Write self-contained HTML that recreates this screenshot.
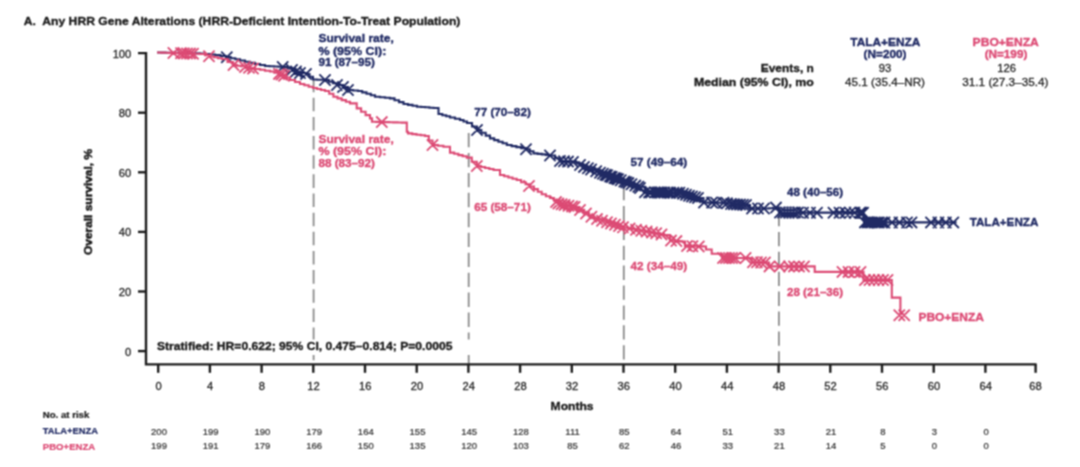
<!DOCTYPE html>
<html><head><meta charset="utf-8"><title>Overall survival</title>
<style>html,body{margin:0;padding:0;background:#fff}svg{display:block}.wrap{width:1080px;height:467px;overflow:hidden}</style></head>
<body>
<div class="wrap">
<svg width="1080" height="467" viewBox="0 0 1080 467" font-family="'Liberation Sans', Arial, sans-serif">
<defs><filter id="soft" x="0" y="0" width="1080" height="467" filterUnits="userSpaceOnUse" color-interpolation-filters="sRGB"><feConvolveMatrix order="3" kernelMatrix="1 2 1 2 4 2 1 2 1" divisor="16" edgeMode="duplicate" preserveAlpha="true"/></filter></defs>
<rect width="1080" height="467" fill="#fff"/>
<g filter="url(#soft)">
<rect width="1080" height="467" fill="#fff"/>
<line x1="313.6" y1="78.6" x2="313.6" y2="364" stroke="#8c8c8c" stroke-width="1.8" stroke-dasharray="13.55 5.60"/>
<line x1="468.7" y1="133.0" x2="468.7" y2="364" stroke="#8c8c8c" stroke-width="1.8" stroke-dasharray="14.35 5.60"/>
<line x1="623.8" y1="186.0" x2="623.8" y2="364" stroke="#8c8c8c" stroke-width="1.8" stroke-dasharray="14.30 5.60"/>
<line x1="778.9" y1="212.0" x2="778.9" y2="364" stroke="#8c8c8c" stroke-width="1.8" stroke-dasharray="14.30 5.60"/>
<rect x="150" y="339.5" width="326" height="15.5" fill="#fff"/>
<path d="M138 53.1 H146 V364.4 H1036.6" stroke="#1c1c1c" stroke-width="2.4" fill="none" stroke-linejoin="miter"/>
<line x1="138" x2="146" y1="112.7" y2="112.7" stroke="#1c1c1c" stroke-width="2.4"/>
<line x1="138" x2="146" y1="172.3" y2="172.3" stroke="#1c1c1c" stroke-width="2.4"/>
<line x1="138" x2="146" y1="231.9" y2="231.9" stroke="#1c1c1c" stroke-width="2.4"/>
<line x1="138" x2="146" y1="291.5" y2="291.5" stroke="#1c1c1c" stroke-width="2.4"/>
<line x1="138" x2="146" y1="351.1" y2="351.1" stroke="#1c1c1c" stroke-width="2.4"/>
<line x1="158.2" x2="158.2" y1="364.4" y2="372.8" stroke="#1c1c1c" stroke-width="2.4"/>
<line x1="209.9" x2="209.9" y1="364.4" y2="372.8" stroke="#1c1c1c" stroke-width="2.4"/>
<line x1="261.6" x2="261.6" y1="364.4" y2="372.8" stroke="#1c1c1c" stroke-width="2.4"/>
<line x1="313.3" x2="313.3" y1="364.4" y2="372.8" stroke="#1c1c1c" stroke-width="2.4"/>
<line x1="365.0" x2="365.0" y1="364.4" y2="372.8" stroke="#1c1c1c" stroke-width="2.4"/>
<line x1="416.7" x2="416.7" y1="364.4" y2="372.8" stroke="#1c1c1c" stroke-width="2.4"/>
<line x1="468.4" x2="468.4" y1="364.4" y2="372.8" stroke="#1c1c1c" stroke-width="2.4"/>
<line x1="520.1" x2="520.1" y1="364.4" y2="372.8" stroke="#1c1c1c" stroke-width="2.4"/>
<line x1="571.8" x2="571.8" y1="364.4" y2="372.8" stroke="#1c1c1c" stroke-width="2.4"/>
<line x1="623.5" x2="623.5" y1="364.4" y2="372.8" stroke="#1c1c1c" stroke-width="2.4"/>
<line x1="675.2" x2="675.2" y1="364.4" y2="372.8" stroke="#1c1c1c" stroke-width="2.4"/>
<line x1="726.9" x2="726.9" y1="364.4" y2="372.8" stroke="#1c1c1c" stroke-width="2.4"/>
<line x1="778.6" x2="778.6" y1="364.4" y2="372.8" stroke="#1c1c1c" stroke-width="2.4"/>
<line x1="830.3" x2="830.3" y1="364.4" y2="372.8" stroke="#1c1c1c" stroke-width="2.4"/>
<line x1="882.0" x2="882.0" y1="364.4" y2="372.8" stroke="#1c1c1c" stroke-width="2.4"/>
<line x1="933.7" x2="933.7" y1="364.4" y2="372.8" stroke="#1c1c1c" stroke-width="2.4"/>
<line x1="985.4" x2="985.4" y1="364.4" y2="372.8" stroke="#1c1c1c" stroke-width="2.4"/>
<line x1="1035.6" x2="1035.6" y1="364.4" y2="372.8" stroke="#1c1c1c" stroke-width="2.4"/>
<text x="131.3" y="57.6" font-size="11.2" font-weight="normal" fill="#262626" stroke="#262626" stroke-width="0.3" text-anchor="end" xml:space="preserve">100</text>
<text x="131.3" y="117.2" font-size="11.2" font-weight="normal" fill="#262626" stroke="#262626" stroke-width="0.3" text-anchor="end" xml:space="preserve">80</text>
<text x="131.3" y="176.8" font-size="11.2" font-weight="normal" fill="#262626" stroke="#262626" stroke-width="0.3" text-anchor="end" xml:space="preserve">60</text>
<text x="131.3" y="236.4" font-size="11.2" font-weight="normal" fill="#262626" stroke="#262626" stroke-width="0.3" text-anchor="end" xml:space="preserve">40</text>
<text x="131.3" y="296.0" font-size="11.2" font-weight="normal" fill="#262626" stroke="#262626" stroke-width="0.3" text-anchor="end" xml:space="preserve">20</text>
<text x="131.3" y="355.6" font-size="11.2" font-weight="normal" fill="#262626" stroke="#262626" stroke-width="0.3" text-anchor="end" xml:space="preserve">0</text>
<text x="158.5" y="389.5" font-size="11.2" font-weight="normal" fill="#262626" stroke="#262626" stroke-width="0.3" text-anchor="middle" xml:space="preserve">0</text>
<text x="210.2" y="389.5" font-size="11.2" font-weight="normal" fill="#262626" stroke="#262626" stroke-width="0.3" text-anchor="middle" xml:space="preserve">4</text>
<text x="261.9" y="389.5" font-size="11.2" font-weight="normal" fill="#262626" stroke="#262626" stroke-width="0.3" text-anchor="middle" xml:space="preserve">8</text>
<text x="313.6" y="389.5" font-size="11.2" font-weight="normal" fill="#262626" stroke="#262626" stroke-width="0.3" text-anchor="middle" xml:space="preserve">12</text>
<text x="365.3" y="389.5" font-size="11.2" font-weight="normal" fill="#262626" stroke="#262626" stroke-width="0.3" text-anchor="middle" xml:space="preserve">16</text>
<text x="417.0" y="389.5" font-size="11.2" font-weight="normal" fill="#262626" stroke="#262626" stroke-width="0.3" text-anchor="middle" xml:space="preserve">20</text>
<text x="468.7" y="389.5" font-size="11.2" font-weight="normal" fill="#262626" stroke="#262626" stroke-width="0.3" text-anchor="middle" xml:space="preserve">24</text>
<text x="520.4" y="389.5" font-size="11.2" font-weight="normal" fill="#262626" stroke="#262626" stroke-width="0.3" text-anchor="middle" xml:space="preserve">28</text>
<text x="572.1" y="389.5" font-size="11.2" font-weight="normal" fill="#262626" stroke="#262626" stroke-width="0.3" text-anchor="middle" xml:space="preserve">32</text>
<text x="623.8" y="389.5" font-size="11.2" font-weight="normal" fill="#262626" stroke="#262626" stroke-width="0.3" text-anchor="middle" xml:space="preserve">36</text>
<text x="675.5" y="389.5" font-size="11.2" font-weight="normal" fill="#262626" stroke="#262626" stroke-width="0.3" text-anchor="middle" xml:space="preserve">40</text>
<text x="727.2" y="389.5" font-size="11.2" font-weight="normal" fill="#262626" stroke="#262626" stroke-width="0.3" text-anchor="middle" xml:space="preserve">44</text>
<text x="778.9" y="389.5" font-size="11.2" font-weight="normal" fill="#262626" stroke="#262626" stroke-width="0.3" text-anchor="middle" xml:space="preserve">48</text>
<text x="830.6" y="389.5" font-size="11.2" font-weight="normal" fill="#262626" stroke="#262626" stroke-width="0.3" text-anchor="middle" xml:space="preserve">52</text>
<text x="882.3" y="389.5" font-size="11.2" font-weight="normal" fill="#262626" stroke="#262626" stroke-width="0.3" text-anchor="middle" xml:space="preserve">56</text>
<text x="934.0" y="389.5" font-size="11.2" font-weight="normal" fill="#262626" stroke="#262626" stroke-width="0.3" text-anchor="middle" xml:space="preserve">60</text>
<text x="985.7" y="389.5" font-size="11.2" font-weight="normal" fill="#262626" stroke="#262626" stroke-width="0.3" text-anchor="middle" xml:space="preserve">64</text>
<text x="1035.4" y="389.5" font-size="11.2" font-weight="normal" fill="#262626" stroke="#262626" stroke-width="0.3" text-anchor="middle" xml:space="preserve">68</text>
<text x="550.6" y="409.7" font-size="11.6" font-weight="bold" fill="#1c1c1c" stroke="#1c1c1c" stroke-width="0.36" text-anchor="start" textLength="43.0" lengthAdjust="spacingAndGlyphs" xml:space="preserve">Months</text>
<text transform="translate(92.3 202) rotate(-90)" font-size="11.5" font-weight="bold" fill="#1c1c1c" stroke="#1c1c1c" stroke-width="0.5" text-anchor="middle" textLength="106" lengthAdjust="spacingAndGlyphs">Overall survival, %</text>
<text x="23.8" y="25.2" font-size="11.7" font-weight="bold" fill="#1c1c1c" stroke="#1c1c1c" stroke-width="0.36" text-anchor="start" textLength="436.6" lengthAdjust="spacingAndGlyphs" xml:space="preserve">A.  Any HRR Gene Alterations (HRR-Deficient Intention-To-Treat Population)</text>
<path d="M157.0 52.5 H161.3 V52.6 H165.6 V52.7 H169.9 V52.8 H174.2 V52.9 H178.5 V53.0 H182.8 V53.1 H187.1 V53.2 H191.4 V53.3 H195.7 V53.4 H200.0 V53.5 H205.0 V54.0 H210.0 V54.5 H215.0 V55.0 H220.5 V56.0 H226.0 V57.0 H230.7 V58.2 H235.3 V59.3 H240.0 V60.5 H245.0 V61.7 H250.0 V62.8 H255.0 V64.0 H260.0 V65.0 H265.0 V66.0 H269.5 V66.2 H274.0 V66.5 H278.5 V66.8 H283.0 V67.0 H287.5 V68.5 H292.0 V70.0 H296.0 V71.5 H300.0 V73.0 H306.0 V74.0 H309.5 V76.8 H313.0 V79.5 H317.0 V79.7 H321.0 V79.8 H325.0 V80.0 H329.0 V81.7 H333.0 V83.3 H337.0 V85.0 H343.0 V87.0 H348.0 V90.0 H353.0 V90.5 H358.0 V91.0 H362.2 V92.4 H366.5 V93.8 H370.8 V95.3 H375.0 V96.7 H380.0 V97.3 H385.0 V97.8 H390.0 V98.4 H394.5 V100.3 H399.0 V102.1 H403.5 V104.0 H408.0 V104.9 H412.5 V105.8 H417.0 V106.7 H421.1 V107.0 H425.2 V107.3 H429.4 V107.7 H433.5 V108.0 H438.5 V114.0 H442.3 V115.2 H446.2 V116.3 H450.0 V117.5 H455.0 V118.8 H460.0 V120.0 H463.5 V121.5 H467.0 V123.0 H472.0 V126.5 H477.0 V130.0 H481.3 V132.8 H485.7 V135.6 H490.0 V138.4 H494.2 V140.1 H498.4 V141.7 H502.6 V143.3 H506.8 V145.0 H511.6 V146.1 H516.4 V147.1 H521.2 V148.1 H526.0 V149.2 H529.8 V151.3 H533.5 V153.4 H537.6 V153.9 H541.8 V154.4 H545.9 V155.0 H550.0 V155.5 H555.0 V158.2 H560.0 V161.0 H564.3 V161.3 H568.7 V161.7 H573.0 V162.0 H576.5 V163.5 H580.0 V165.0 H583.5 V166.7 H588.1 V168.4 H592.7 V170.0 H597.3 V171.7 H601.9 V173.4 H606.5 V175.1 H611.0 V176.8 H615.6 V178.4 H620.2 V180.1 H624.8 V181.8 H629.4 V183.5 H634.0 V185.1 H638.6 V186.8 H645.0 V192.3 H649.4 V192.4 H653.8 V192.4 H658.1 V192.5 H662.5 V192.6 H666.9 V192.6 H671.2 V192.7 H675.6 V192.7 H680.0 V192.8 H685.0 V194.4 H690.0 V196.0 H694.2 V197.0 H698.5 V198.0 H703.5 V202.5 H707.8 V202.6 H712.1 V202.6 H716.4 V202.7 H720.7 V202.7 H725.0 V202.8 H731.0 V204.0 H735.0 V204.2 H739.0 V204.5 H743.0 V204.8 H747.0 V205.0 H750.0 V208.5 L765.0 208.5 L765.0 208.5 H769.0 V208.2 H773.0 V207.8 H777.0 V207.5 H779.0 V212.6 L863.5 212.6 L863.5 212.8 L864.0 222.4 L956.6 222.4 L956.6 222.4" stroke="#202a64" stroke-width="2.1" fill="none"/>
<path d="M221.2 51.6 l11.2 11.2 M221.2 62.8 l11.2 -11.2 M277.1 61.4 l11.2 11.2 M277.1 72.6 l11.2 -11.2 M286.4 64.4 l11.2 11.2 M286.4 75.6 l11.2 -11.2 M290.4 65.9 l11.2 11.2 M290.4 77.1 l11.2 -11.2 M294.4 67.4 l11.2 11.2 M294.4 78.6 l11.2 -11.2 M300.4 68.4 l11.2 11.2 M300.4 79.6 l11.2 -11.2 M319.4 74.4 l11.2 11.2 M319.4 85.6 l11.2 -11.2 M331.4 79.4 l11.2 11.2 M331.4 90.6 l11.2 -11.2 M337.4 81.4 l11.2 11.2 M337.4 92.6 l11.2 -11.2 M342.4 84.4 l11.2 11.2 M342.4 95.6 l11.2 -11.2 M471.4 124.4 l11.2 11.2 M471.4 135.6 l11.2 -11.2 M520.4 143.6 l11.2 11.2 M520.4 154.8 l11.2 -11.2 M544.4 149.9 l11.2 11.2 M544.4 161.1 l11.2 -11.2 M554.4 155.4 l11.2 11.2 M554.4 166.6 l11.2 -11.2 M558.4 155.7 l11.2 11.2 M558.4 166.9 l11.2 -11.2 M562.4 156.0 l11.2 11.2 M562.4 167.2 l11.2 -11.2 M567.4 156.4 l11.2 11.2 M567.4 167.6 l11.2 -11.2 M574.4 159.4 l11.2 11.2 M574.4 170.6 l11.2 -11.2 M578.4 161.3 l11.2 11.2 M578.4 172.5 l11.2 -11.2 M582.3 162.7 l11.2 11.2 M582.3 173.9 l11.2 -11.2 M585.5 163.9 l11.2 11.2 M585.5 175.1 l11.2 -11.2 M590.6 165.7 l11.2 11.2 M590.6 176.9 l11.2 -11.2 M594.4 167.1 l11.2 11.2 M594.4 178.3 l11.2 -11.2 M597.3 168.2 l11.2 11.2 M597.3 179.4 l11.2 -11.2 M599.8 169.1 l11.2 11.2 M599.8 180.3 l11.2 -11.2 M601.6 169.7 l11.2 11.2 M601.6 180.9 l11.2 -11.2 M604.4 170.8 l11.2 11.2 M604.4 182.0 l11.2 -11.2 M606.2 171.4 l11.2 11.2 M606.2 182.6 l11.2 -11.2 M608.8 172.4 l11.2 11.2 M608.8 183.6 l11.2 -11.2 M610.7 173.0 l11.2 11.2 M610.7 184.2 l11.2 -11.2 M612.5 173.7 l11.2 11.2 M612.5 184.9 l11.2 -11.2 M615.2 174.7 l11.2 11.2 M615.2 185.9 l11.2 -11.2 M618.7 176.0 l11.2 11.2 M618.7 187.2 l11.2 -11.2 M620.7 176.7 l11.2 11.2 M620.7 187.9 l11.2 -11.2 M622.8 177.5 l11.2 11.2 M622.8 188.7 l11.2 -11.2 M625.9 178.6 l11.2 11.2 M625.9 189.8 l11.2 -11.2 M629.7 180.0 l11.2 11.2 M629.7 191.2 l11.2 -11.2 M632.7 181.1 l11.2 11.2 M632.7 192.3 l11.2 -11.2 M634.4 182.4 l11.2 11.2 M634.4 193.6 l11.2 -11.2 M639.4 186.7 l11.2 11.2 M639.4 197.9 l11.2 -11.2 M643.5 186.8 l11.2 11.2 M643.5 198.0 l11.2 -11.2 M645.5 186.8 l11.2 11.2 M645.5 198.0 l11.2 -11.2 M649.3 186.8 l11.2 11.2 M649.3 198.0 l11.2 -11.2 M651.8 186.9 l11.2 11.2 M651.8 198.1 l11.2 -11.2 M654.0 186.9 l11.2 11.2 M654.0 198.1 l11.2 -11.2 M656.0 186.9 l11.2 11.2 M656.0 198.1 l11.2 -11.2 M658.6 187.0 l11.2 11.2 M658.6 198.2 l11.2 -11.2 M662.3 187.0 l11.2 11.2 M662.3 198.2 l11.2 -11.2 M664.6 187.1 l11.2 11.2 M664.6 198.3 l11.2 -11.2 M667.8 187.1 l11.2 11.2 M667.8 198.3 l11.2 -11.2 M671.1 187.2 l11.2 11.2 M671.1 198.4 l11.2 -11.2 M673.8 187.2 l11.2 11.2 M673.8 198.4 l11.2 -11.2 M677.4 188.2 l11.2 11.2 M677.4 199.4 l11.2 -11.2 M680.4 189.1 l11.2 11.2 M680.4 200.3 l11.2 -11.2 M683.4 190.1 l11.2 11.2 M683.4 201.3 l11.2 -11.2 M686.4 190.9 l11.2 11.2 M686.4 202.1 l11.2 -11.2 M689.4 191.6 l11.2 11.2 M689.4 202.8 l11.2 -11.2 M692.4 192.3 l11.2 11.2 M692.4 203.5 l11.2 -11.2 M698.4 196.9 l11.2 11.2 M698.4 208.1 l11.2 -11.2 M706.4 197.0 l11.2 11.2 M706.4 208.2 l11.2 -11.2 M710.4 197.1 l11.2 11.2 M710.4 208.3 l11.2 -11.2 M717.9 197.2 l11.2 11.2 M717.9 208.4 l11.2 -11.2 M721.4 197.6 l11.2 11.2 M721.4 208.8 l11.2 -11.2 M725.4 198.4 l11.2 11.2 M725.4 209.6 l11.2 -11.2 M728.4 198.6 l11.2 11.2 M728.4 209.8 l11.2 -11.2 M731.4 198.8 l11.2 11.2 M731.4 210.0 l11.2 -11.2 M734.4 199.0 l11.2 11.2 M734.4 210.2 l11.2 -11.2 M737.4 199.2 l11.2 11.2 M737.4 210.3 l11.2 -11.2 M740.4 199.3 l11.2 11.2 M740.4 210.5 l11.2 -11.2 M746.4 202.9 l11.2 11.2 M746.4 214.1 l11.2 -11.2 M752.4 202.9 l11.2 11.2 M752.4 214.1 l11.2 -11.2 M758.4 202.9 l11.2 11.2 M758.4 214.1 l11.2 -11.2 M770.4 202.0 l11.2 11.2 M770.4 213.2 l11.2 -11.2 M774.4 207.0 l11.2 11.2 M774.4 218.2 l11.2 -11.2 M777.4 207.0 l11.2 11.2 M777.4 218.2 l11.2 -11.2 M780.4 207.0 l11.2 11.2 M780.4 218.2 l11.2 -11.2 M783.4 207.0 l11.2 11.2 M783.4 218.2 l11.2 -11.2 M786.4 207.0 l11.2 11.2 M786.4 218.2 l11.2 -11.2 M789.4 207.0 l11.2 11.2 M789.4 218.2 l11.2 -11.2 M792.4 207.0 l11.2 11.2 M792.4 218.2 l11.2 -11.2 M797.4 207.1 l11.2 11.2 M797.4 218.3 l11.2 -11.2 M804.4 207.1 l11.2 11.2 M804.4 218.3 l11.2 -11.2 M811.4 207.1 l11.2 11.2 M811.4 218.3 l11.2 -11.2 M827.9 207.1 l11.2 11.2 M827.9 218.3 l11.2 -11.2 M833.9 207.1 l11.2 11.2 M833.9 218.3 l11.2 -11.2 M839.9 207.2 l11.2 11.2 M839.9 218.4 l11.2 -11.2 M844.4 207.2 l11.2 11.2 M844.4 218.4 l11.2 -11.2 M848.9 207.2 l11.2 11.2 M848.9 218.4 l11.2 -11.2 M854.9 207.2 l11.2 11.2 M854.9 218.4 l11.2 -11.2 M854.4 207.2 l11.2 11.2 M854.4 218.4 l11.2 -11.2 M856.0 207.2 l11.2 11.2 M856.0 218.4 l11.2 -11.2 M857.5 207.2 l11.2 11.2 M857.5 218.4 l11.2 -11.2 M859.4 216.8 l11.2 11.2 M859.4 228.0 l11.2 -11.2 M862.1 216.8 l11.2 11.2 M862.1 228.0 l11.2 -11.2 M864.4 216.8 l11.2 11.2 M864.4 228.0 l11.2 -11.2 M866.4 216.8 l11.2 11.2 M866.4 228.0 l11.2 -11.2 M869.0 216.8 l11.2 11.2 M869.0 228.0 l11.2 -11.2 M871.3 216.8 l11.2 11.2 M871.3 228.0 l11.2 -11.2 M873.3 216.8 l11.2 11.2 M873.3 228.0 l11.2 -11.2 M876.3 216.8 l11.2 11.2 M876.3 228.0 l11.2 -11.2 M878.9 216.8 l11.2 11.2 M878.9 228.0 l11.2 -11.2 M886.4 216.8 l11.2 11.2 M886.4 228.0 l11.2 -11.2 M893.9 216.8 l11.2 11.2 M893.9 228.0 l11.2 -11.2 M901.4 216.8 l11.2 11.2 M901.4 228.0 l11.2 -11.2 M905.9 216.8 l11.2 11.2 M905.9 228.0 l11.2 -11.2 M925.4 216.8 l11.2 11.2 M925.4 228.0 l11.2 -11.2 M932.8 216.8 l11.2 11.2 M932.8 228.0 l11.2 -11.2 M940.2 216.8 l11.2 11.2 M940.2 228.0 l11.2 -11.2 M947.7 216.8 l11.2 11.2 M947.7 228.0 l11.2 -11.2 " stroke="#202a64" stroke-width="1.8" fill="none"/>
<path d="M157.0 52.5 H161.0 V52.6 H165.0 V52.8 H169.0 V52.9 H173.0 V53.0 H177.5 V53.2 H182.0 V53.3 H186.5 V53.5 H191.0 V53.7 H195.5 V53.8 H200.0 V54.0 H205.0 V55.2 H210.0 V56.5 H214.0 V57.3 H218.0 V58.2 H222.0 V59.0 H227.5 V62.0 H233.0 V65.0 H237.0 V65.7 H241.0 V66.3 H245.0 V67.0 H250.0 V68.0 H255.0 V69.0 H260.0 V69.8 H265.0 V70.7 H270.0 V71.5 H274.3 V72.7 H278.7 V73.8 H283.0 V75.0 H286.5 V77.5 H290.0 V80.0 H295.0 V82.0 H300.0 V84.0 H304.3 V85.3 H308.7 V86.7 H313.0 V88.0 H317.0 V89.0 H321.0 V90.0 H325.0 V91.0 H329.2 V93.8 H333.4 V96.7 H337.5 V98.4 H341.7 V100.1 H345.9 V101.7 H350.0 V103.4 H356.7 V108.4 H361.1 V111.7 H365.6 V115.1 H370.0 V118.4 H372.0 V121.8 H376.3 V121.9 H380.5 V122.0 H384.8 V122.1 H389.0 V122.3 H393.3 V122.4 H397.5 V122.5 H401.8 V122.6 H406.8 V131.8 H408.0 V133.4 H412.2 V134.1 H416.5 V134.7 H420.8 V135.3 H425.0 V136.0 H428.8 V140.5 H432.5 V145.0 H437.9 V145.8 H443.4 V146.7 H450.0 V152.6 H454.2 V153.8 H458.4 V155.1 H462.6 V156.3 H466.8 V157.6 H471.8 V161.8 H476.8 V166.0 H481.0 V167.0 H485.1 V168.0 H489.3 V169.0 H493.5 V170.0 H500.0 V175.0 H504.2 V176.2 H508.4 V177.5 H512.5 V178.8 H516.7 V180.0 H521.1 V182.2 H525.6 V184.3 H530.0 V186.5 H533.9 V189.1 H537.8 V191.7 H541.7 V194.3 H545.9 V196.2 H550.0 V198.0 H554.0 V200.8 H558.0 V203.5 H562.2 V204.4 H566.5 V205.2 H570.8 V206.1 H575.0 V207.0 H579.6 V209.8 H584.2 V212.5 H588.9 V215.2 H593.5 V218.0 H597.8 V219.4 H602.1 V220.7 H606.4 V222.1 H610.6 V223.4 H614.9 V224.8 H619.2 V226.1 H623.5 V227.5 H627.6 V228.2 H631.8 V229.0 H635.9 V229.8 H640.0 V230.5 H645.0 V231.3 H650.0 V232.2 H655.0 V233.0 H659.5 V234.0 H664.0 V235.0 H670.0 V240.5 H675.0 V241.0 H680.0 V241.5 H685.0 V246.0 H689.6 V246.1 H694.2 V246.2 H698.9 V246.4 H703.5 V246.5 H706.0 V249.5 H711.7 V253.7 H715.9 V253.8 H720.0 V254.0 H722.0 V258.0 L746.8 258.0 L746.8 258.0 H751.8 V262.2 H756.8 V262.3 H761.8 V262.4 H766.8 V262.5 H769.0 V266.4 L814.7 266.4 L814.7 266.4 L814.7 271.9 L863.5 271.9 L863.5 271.9 L863.5 280.0 L891.8 280.0 L891.8 280.0 L891.8 297.6 L900.4 297.6 L900.4 297.6 L900.4 315.2" stroke="#dc4a74" stroke-width="2.1" fill="none"/>
<path d="M167.8 47.4 l11.2 11.2 M167.8 58.6 l11.2 -11.2 M175.4 47.7 l11.2 11.2 M175.4 58.9 l11.2 -11.2 M178.4 47.8 l11.2 11.2 M178.4 59.0 l11.2 -11.2 M181.4 47.9 l11.2 11.2 M181.4 59.1 l11.2 -11.2 M184.4 48.0 l11.2 11.2 M184.4 59.2 l11.2 -11.2 M187.4 48.1 l11.2 11.2 M187.4 59.3 l11.2 -11.2 M203.4 50.6 l11.2 11.2 M203.4 61.9 l11.2 -11.2 M227.9 59.5 l11.2 11.2 M227.9 70.7 l11.2 -11.2 M239.4 61.4 l11.2 11.2 M239.4 72.6 l11.2 -11.2 M243.4 62.2 l11.2 11.2 M243.4 73.4 l11.2 -11.2 M247.4 63.0 l11.2 11.2 M247.4 74.2 l11.2 -11.2 M273.4 68.3 l11.2 11.2 M273.4 79.5 l11.2 -11.2 M275.9 69.0 l11.2 11.2 M275.9 80.2 l11.2 -11.2 M278.4 70.1 l11.2 11.2 M278.4 81.3 l11.2 -11.2 M376.2 116.5 l11.2 11.2 M376.2 127.7 l11.2 -11.2 M426.9 139.4 l11.2 11.2 M426.9 150.6 l11.2 -11.2 M471.2 160.4 l11.2 11.2 M471.2 171.6 l11.2 -11.2 M523.4 180.4 l11.2 11.2 M523.4 191.6 l11.2 -11.2 M550.4 196.5 l11.2 11.2 M550.4 207.7 l11.2 -11.2 M552.8 198.0 l11.2 11.2 M552.8 209.2 l11.2 -11.2 M556.0 198.6 l11.2 11.2 M556.0 209.8 l11.2 -11.2 M559.0 199.3 l11.2 11.2 M559.0 210.5 l11.2 -11.2 M562.9 200.1 l11.2 11.2 M562.9 211.3 l11.2 -11.2 M566.5 200.8 l11.2 11.2 M566.5 212.0 l11.2 -11.2 M569.0 201.3 l11.2 11.2 M569.0 212.5 l11.2 -11.2 M574.4 204.4 l11.2 11.2 M574.4 215.6 l11.2 -11.2 M580.4 207.9 l11.2 11.2 M580.4 219.1 l11.2 -11.2 M585.8 211.2 l11.2 11.2 M585.8 222.4 l11.2 -11.2 M591.4 213.5 l11.2 11.2 M591.4 224.7 l11.2 -11.2 M596.4 215.1 l11.2 11.2 M596.4 226.3 l11.2 -11.2 M601.4 216.7 l11.2 11.2 M601.4 227.9 l11.2 -11.2 M605.4 217.9 l11.2 11.2 M605.4 229.1 l11.2 -11.2 M609.4 219.2 l11.2 11.2 M609.4 230.4 l11.2 -11.2 M613.4 220.5 l11.2 11.2 M613.4 231.7 l11.2 -11.2 M617.4 221.7 l11.2 11.2 M617.4 232.9 l11.2 -11.2 M624.0 223.0 l11.2 11.2 M624.0 234.2 l11.2 -11.2 M630.4 224.2 l11.2 11.2 M630.4 235.4 l11.2 -11.2 M635.7 225.1 l11.2 11.2 M635.7 236.3 l11.2 -11.2 M641.0 226.0 l11.2 11.2 M641.0 237.2 l11.2 -11.2 M646.4 226.9 l11.2 11.2 M646.4 238.1 l11.2 -11.2 M650.6 227.7 l11.2 11.2 M650.6 238.9 l11.2 -11.2 M655.9 228.8 l11.2 11.2 M655.9 240.0 l11.2 -11.2 M665.4 235.0 l11.2 11.2 M665.4 246.2 l11.2 -11.2 M670.8 235.5 l11.2 11.2 M670.8 246.7 l11.2 -11.2 M681.4 240.5 l11.2 11.2 M681.4 251.7 l11.2 -11.2 M686.8 240.6 l11.2 11.2 M686.8 251.8 l11.2 -11.2 M693.2 240.8 l11.2 11.2 M693.2 252.0 l11.2 -11.2 M717.4 252.4 l11.2 11.2 M717.4 263.6 l11.2 -11.2 M720.4 252.4 l11.2 11.2 M720.4 263.6 l11.2 -11.2 M723.4 252.4 l11.2 11.2 M723.4 263.6 l11.2 -11.2 M726.4 252.4 l11.2 11.2 M726.4 263.6 l11.2 -11.2 M729.4 252.4 l11.2 11.2 M729.4 263.6 l11.2 -11.2 M740.0 252.4 l11.2 11.2 M740.0 263.6 l11.2 -11.2 M747.4 256.6 l11.2 11.2 M747.4 267.8 l11.2 -11.2 M751.4 256.7 l11.2 11.2 M751.4 267.9 l11.2 -11.2 M755.4 256.8 l11.2 11.2 M755.4 268.0 l11.2 -11.2 M759.4 256.9 l11.2 11.2 M759.4 268.1 l11.2 -11.2 M763.9 260.8 l11.2 11.2 M763.9 272.0 l11.2 -11.2 M774.1 260.8 l11.2 11.2 M774.1 272.0 l11.2 -11.2 M783.4 260.8 l11.2 11.2 M783.4 272.0 l11.2 -11.2 M788.4 260.8 l11.2 11.2 M788.4 272.0 l11.2 -11.2 M793.4 260.8 l11.2 11.2 M793.4 272.0 l11.2 -11.2 M798.4 260.8 l11.2 11.2 M798.4 272.0 l11.2 -11.2 M836.9 266.3 l11.2 11.2 M836.9 277.5 l11.2 -11.2 M842.9 266.3 l11.2 11.2 M842.9 277.5 l11.2 -11.2 M848.9 266.3 l11.2 11.2 M848.9 277.5 l11.2 -11.2 M854.9 266.3 l11.2 11.2 M854.9 277.5 l11.2 -11.2 M859.4 274.4 l11.2 11.2 M859.4 285.6 l11.2 -11.2 M863.9 274.4 l11.2 11.2 M863.9 285.6 l11.2 -11.2 M868.4 274.4 l11.2 11.2 M868.4 285.6 l11.2 -11.2 M872.9 274.4 l11.2 11.2 M872.9 285.6 l11.2 -11.2 M877.4 274.4 l11.2 11.2 M877.4 285.6 l11.2 -11.2 M881.9 274.4 l11.2 11.2 M881.9 285.6 l11.2 -11.2 M893.7 309.6 l11.2 11.2 M893.7 320.8 l11.2 -11.2 M898.6 309.6 l11.2 11.2 M898.6 320.8 l11.2 -11.2 " stroke="#dc4a74" stroke-width="1.8" fill="none"/>
<text x="969.7" y="226.0" font-size="11.5" font-weight="bold" fill="#202a64" stroke="#202a64" stroke-width="0.36" text-anchor="start" textLength="68.6" lengthAdjust="spacingAndGlyphs" xml:space="preserve">TALA+ENZA</text>
<text x="918.4" y="320.7" font-size="11.5" font-weight="bold" fill="#dc4a74" stroke="#dc4a74" stroke-width="0.36" text-anchor="start" textLength="65.6" lengthAdjust="spacingAndGlyphs" xml:space="preserve">PBO+ENZA</text>
<text x="318.4" y="42.4" font-size="11.5" font-weight="bold" fill="#202a64" stroke="#202a64" stroke-width="0.36" text-anchor="start" textLength="75.4" lengthAdjust="spacingAndGlyphs" xml:space="preserve">Survival rate,</text>
<text x="318.4" y="54.6" font-size="11.5" font-weight="bold" fill="#202a64" stroke="#202a64" stroke-width="0.36" text-anchor="start" textLength="67.9" lengthAdjust="spacingAndGlyphs" xml:space="preserve">% (95% CI):</text>
<text x="318.4" y="66.3" font-size="11.5" font-weight="bold" fill="#202a64" stroke="#202a64" stroke-width="0.36" text-anchor="start" textLength="56.6" lengthAdjust="spacingAndGlyphs" xml:space="preserve">91 (87–95)</text>
<text x="318.4" y="143.0" font-size="11.5" font-weight="bold" fill="#dc4a74" stroke="#dc4a74" stroke-width="0.36" text-anchor="start" textLength="75.4" lengthAdjust="spacingAndGlyphs" xml:space="preserve">Survival rate,</text>
<text x="318.4" y="155.2" font-size="11.5" font-weight="bold" fill="#dc4a74" stroke="#dc4a74" stroke-width="0.36" text-anchor="start" textLength="67.9" lengthAdjust="spacingAndGlyphs" xml:space="preserve">% (95% CI):</text>
<text x="318.4" y="166.9" font-size="11.5" font-weight="bold" fill="#dc4a74" stroke="#dc4a74" stroke-width="0.36" text-anchor="start" textLength="56.6" lengthAdjust="spacingAndGlyphs" xml:space="preserve">88 (83–92)</text>
<text x="474.2" y="115.7" font-size="11.5" font-weight="bold" fill="#202a64" stroke="#202a64" stroke-width="0.36" text-anchor="start" textLength="56.6" lengthAdjust="spacingAndGlyphs" xml:space="preserve">77 (70–82)</text>
<text x="474.2" y="211.2" font-size="11.5" font-weight="bold" fill="#dc4a74" stroke="#dc4a74" stroke-width="0.36" text-anchor="start" textLength="56.6" lengthAdjust="spacingAndGlyphs" xml:space="preserve">65 (58–71)</text>
<text x="630.4" y="165.5" font-size="11.5" font-weight="bold" fill="#202a64" stroke="#202a64" stroke-width="0.36" text-anchor="start" textLength="56.8" lengthAdjust="spacingAndGlyphs" xml:space="preserve">57 (49–64)</text>
<text x="630.4" y="269.7" font-size="11.5" font-weight="bold" fill="#dc4a74" stroke="#dc4a74" stroke-width="0.36" text-anchor="start" textLength="56.8" lengthAdjust="spacingAndGlyphs" xml:space="preserve">42 (34–49)</text>
<text x="787.0" y="196.3" font-size="11.5" font-weight="bold" fill="#202a64" stroke="#202a64" stroke-width="0.36" text-anchor="start" textLength="56.1" lengthAdjust="spacingAndGlyphs" xml:space="preserve">48 (40–56)</text>
<text x="787.0" y="295.6" font-size="11.5" font-weight="bold" fill="#dc4a74" stroke="#dc4a74" stroke-width="0.36" text-anchor="start" textLength="56.1" lengthAdjust="spacingAndGlyphs" xml:space="preserve">28 (21–36)</text>
<text x="157.0" y="349.9" font-size="11.4" font-weight="bold" fill="#1c1c1c" stroke="#1c1c1c" stroke-width="0.36" text-anchor="start" textLength="295.4" lengthAdjust="spacingAndGlyphs" xml:space="preserve">Stratified: HR=0.622; 95% CI, 0.475–0.814; P=0.0005</text>
<text x="850.3" y="46.4" font-size="11.5" font-weight="bold" fill="#202a64" stroke="#202a64" stroke-width="0.36" text-anchor="start" textLength="70.1" lengthAdjust="spacingAndGlyphs" xml:space="preserve">TALA+ENZA</text>
<text x="863.6" y="57.7" font-size="11.2" font-weight="bold" fill="#202a64" stroke="#202a64" stroke-width="0.36" text-anchor="start" textLength="42.9" lengthAdjust="spacingAndGlyphs" xml:space="preserve">(N=200)</text>
<text x="972.6" y="46.4" font-size="11.5" font-weight="bold" fill="#dc4a74" stroke="#dc4a74" stroke-width="0.36" text-anchor="start" textLength="66.2" lengthAdjust="spacingAndGlyphs" xml:space="preserve">PBO+ENZA</text>
<text x="984.7" y="57.7" font-size="11.2" font-weight="bold" fill="#dc4a74" stroke="#dc4a74" stroke-width="0.36" text-anchor="start" textLength="42.6" lengthAdjust="spacingAndGlyphs" xml:space="preserve">(N=199)</text>
<text x="760.8" y="71.8" font-size="11.5" font-weight="bold" fill="#1c1c1c" stroke="#1c1c1c" stroke-width="0.36" text-anchor="start" textLength="53.0" lengthAdjust="spacingAndGlyphs" xml:space="preserve">Events, n</text>
<text x="693.9" y="85.8" font-size="11.5" font-weight="bold" fill="#1c1c1c" stroke="#1c1c1c" stroke-width="0.36" text-anchor="start" textLength="119.9" lengthAdjust="spacingAndGlyphs" xml:space="preserve">Median (95% CI), mo</text>
<text x="878.8" y="71.5" font-size="11.3" font-weight="normal" fill="#262626" stroke="#262626" stroke-width="0.3" text-anchor="start" textLength="12.5" lengthAdjust="spacingAndGlyphs" xml:space="preserve">93</text>
<text x="997.2" y="71.5" font-size="11.3" font-weight="normal" fill="#262626" stroke="#262626" stroke-width="0.3" text-anchor="start" textLength="18.8" lengthAdjust="spacingAndGlyphs" xml:space="preserve">126</text>
<text x="845.1" y="85.8" font-size="11.3" font-weight="normal" fill="#262626" stroke="#262626" stroke-width="0.3" text-anchor="start" textLength="79.9" lengthAdjust="spacingAndGlyphs" xml:space="preserve">45.1 (35.4–NR)</text>
<text x="962.3" y="85.8" font-size="11.3" font-weight="normal" fill="#262626" stroke="#262626" stroke-width="0.3" text-anchor="start" textLength="86.1" lengthAdjust="spacingAndGlyphs" xml:space="preserve">31.1 (27.3–35.4)</text>
<text x="42.8" y="418.4" font-size="9.4" font-weight="bold" fill="#1c1c1c" stroke="#1c1c1c" stroke-width="0.216" text-anchor="start" textLength="46.5" lengthAdjust="spacingAndGlyphs" xml:space="preserve">No. at risk</text>
<text x="42.8" y="433.6" font-size="9.4" font-weight="bold" fill="#202a64" stroke="#202a64" stroke-width="0.216" text-anchor="start" textLength="55.3" lengthAdjust="spacingAndGlyphs" xml:space="preserve">TALA+ENZA</text>
<text x="42.8" y="449.5" font-size="9.4" font-weight="bold" fill="#dc4a74" stroke="#dc4a74" stroke-width="0.216" text-anchor="start" textLength="52.4" lengthAdjust="spacingAndGlyphs" xml:space="preserve">PBO+ENZA</text>
<text x="159.0" y="435.3" font-size="9.5" font-weight="normal" fill="#2a2a2a" stroke="#2a2a2a" stroke-width="0.18" text-anchor="middle" xml:space="preserve">200</text>
<text x="159.0" y="449.2" font-size="9.5" font-weight="normal" fill="#2a2a2a" stroke="#2a2a2a" stroke-width="0.18" text-anchor="middle" xml:space="preserve">199</text>
<text x="210.7" y="435.3" font-size="9.5" font-weight="normal" fill="#2a2a2a" stroke="#2a2a2a" stroke-width="0.18" text-anchor="middle" xml:space="preserve">199</text>
<text x="210.7" y="449.2" font-size="9.5" font-weight="normal" fill="#2a2a2a" stroke="#2a2a2a" stroke-width="0.18" text-anchor="middle" xml:space="preserve">191</text>
<text x="262.4" y="435.3" font-size="9.5" font-weight="normal" fill="#2a2a2a" stroke="#2a2a2a" stroke-width="0.18" text-anchor="middle" xml:space="preserve">190</text>
<text x="262.4" y="449.2" font-size="9.5" font-weight="normal" fill="#2a2a2a" stroke="#2a2a2a" stroke-width="0.18" text-anchor="middle" xml:space="preserve">179</text>
<text x="314.1" y="435.3" font-size="9.5" font-weight="normal" fill="#2a2a2a" stroke="#2a2a2a" stroke-width="0.18" text-anchor="middle" xml:space="preserve">179</text>
<text x="314.1" y="449.2" font-size="9.5" font-weight="normal" fill="#2a2a2a" stroke="#2a2a2a" stroke-width="0.18" text-anchor="middle" xml:space="preserve">166</text>
<text x="365.8" y="435.3" font-size="9.5" font-weight="normal" fill="#2a2a2a" stroke="#2a2a2a" stroke-width="0.18" text-anchor="middle" xml:space="preserve">164</text>
<text x="365.8" y="449.2" font-size="9.5" font-weight="normal" fill="#2a2a2a" stroke="#2a2a2a" stroke-width="0.18" text-anchor="middle" xml:space="preserve">150</text>
<text x="417.5" y="435.3" font-size="9.5" font-weight="normal" fill="#2a2a2a" stroke="#2a2a2a" stroke-width="0.18" text-anchor="middle" xml:space="preserve">155</text>
<text x="417.5" y="449.2" font-size="9.5" font-weight="normal" fill="#2a2a2a" stroke="#2a2a2a" stroke-width="0.18" text-anchor="middle" xml:space="preserve">135</text>
<text x="469.2" y="435.3" font-size="9.5" font-weight="normal" fill="#2a2a2a" stroke="#2a2a2a" stroke-width="0.18" text-anchor="middle" xml:space="preserve">145</text>
<text x="469.2" y="449.2" font-size="9.5" font-weight="normal" fill="#2a2a2a" stroke="#2a2a2a" stroke-width="0.18" text-anchor="middle" xml:space="preserve">120</text>
<text x="520.9" y="435.3" font-size="9.5" font-weight="normal" fill="#2a2a2a" stroke="#2a2a2a" stroke-width="0.18" text-anchor="middle" xml:space="preserve">128</text>
<text x="520.9" y="449.2" font-size="9.5" font-weight="normal" fill="#2a2a2a" stroke="#2a2a2a" stroke-width="0.18" text-anchor="middle" xml:space="preserve">103</text>
<text x="572.6" y="435.3" font-size="9.5" font-weight="normal" fill="#2a2a2a" stroke="#2a2a2a" stroke-width="0.18" text-anchor="middle" xml:space="preserve">111</text>
<text x="572.6" y="449.2" font-size="9.5" font-weight="normal" fill="#2a2a2a" stroke="#2a2a2a" stroke-width="0.18" text-anchor="middle" xml:space="preserve">85</text>
<text x="624.3" y="435.3" font-size="9.5" font-weight="normal" fill="#2a2a2a" stroke="#2a2a2a" stroke-width="0.18" text-anchor="middle" xml:space="preserve">85</text>
<text x="624.3" y="449.2" font-size="9.5" font-weight="normal" fill="#2a2a2a" stroke="#2a2a2a" stroke-width="0.18" text-anchor="middle" xml:space="preserve">62</text>
<text x="676.0" y="435.3" font-size="9.5" font-weight="normal" fill="#2a2a2a" stroke="#2a2a2a" stroke-width="0.18" text-anchor="middle" xml:space="preserve">64</text>
<text x="676.0" y="449.2" font-size="9.5" font-weight="normal" fill="#2a2a2a" stroke="#2a2a2a" stroke-width="0.18" text-anchor="middle" xml:space="preserve">46</text>
<text x="727.7" y="435.3" font-size="9.5" font-weight="normal" fill="#2a2a2a" stroke="#2a2a2a" stroke-width="0.18" text-anchor="middle" xml:space="preserve">51</text>
<text x="727.7" y="449.2" font-size="9.5" font-weight="normal" fill="#2a2a2a" stroke="#2a2a2a" stroke-width="0.18" text-anchor="middle" xml:space="preserve">33</text>
<text x="779.4" y="435.3" font-size="9.5" font-weight="normal" fill="#2a2a2a" stroke="#2a2a2a" stroke-width="0.18" text-anchor="middle" xml:space="preserve">33</text>
<text x="779.4" y="449.2" font-size="9.5" font-weight="normal" fill="#2a2a2a" stroke="#2a2a2a" stroke-width="0.18" text-anchor="middle" xml:space="preserve">21</text>
<text x="831.1" y="435.3" font-size="9.5" font-weight="normal" fill="#2a2a2a" stroke="#2a2a2a" stroke-width="0.18" text-anchor="middle" xml:space="preserve">21</text>
<text x="831.1" y="449.2" font-size="9.5" font-weight="normal" fill="#2a2a2a" stroke="#2a2a2a" stroke-width="0.18" text-anchor="middle" xml:space="preserve">14</text>
<text x="882.8" y="435.3" font-size="9.5" font-weight="normal" fill="#2a2a2a" stroke="#2a2a2a" stroke-width="0.18" text-anchor="middle" xml:space="preserve">8</text>
<text x="882.8" y="449.2" font-size="9.5" font-weight="normal" fill="#2a2a2a" stroke="#2a2a2a" stroke-width="0.18" text-anchor="middle" xml:space="preserve">5</text>
<text x="934.5" y="435.3" font-size="9.5" font-weight="normal" fill="#2a2a2a" stroke="#2a2a2a" stroke-width="0.18" text-anchor="middle" xml:space="preserve">3</text>
<text x="934.5" y="449.2" font-size="9.5" font-weight="normal" fill="#2a2a2a" stroke="#2a2a2a" stroke-width="0.18" text-anchor="middle" xml:space="preserve">0</text>
<text x="986.2" y="435.3" font-size="9.5" font-weight="normal" fill="#2a2a2a" stroke="#2a2a2a" stroke-width="0.18" text-anchor="middle" xml:space="preserve">0</text>
<text x="986.2" y="449.2" font-size="9.5" font-weight="normal" fill="#2a2a2a" stroke="#2a2a2a" stroke-width="0.18" text-anchor="middle" xml:space="preserve">0</text>
</g>
</svg>
</div>
</body></html>
